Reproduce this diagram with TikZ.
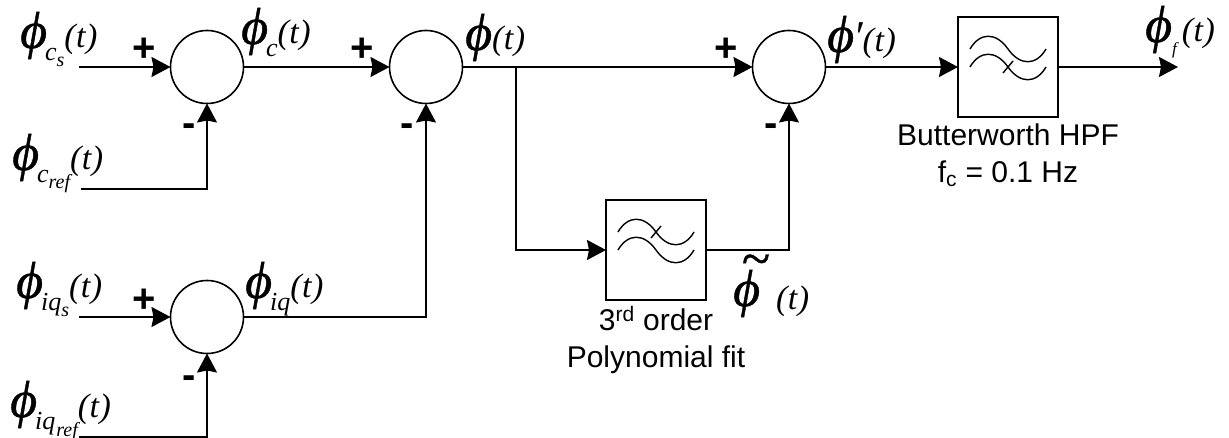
\documentclass[tikz,border=0pt]{standalone}
\usepackage{fontspec}
\setmainfont{Liberation Serif}
\setsansfont{Liberation Sans}
\newfontfamily\phifont[ItalicFeatures={FakeBold=0.8}]{Liberation Serif}
\usetikzlibrary{arrows.meta, positioning}
\newcommand{\phisym}{{\phifont\itshape\fontsize{52}{52}\selectfont ϕ}}
\newcommand{\phisub}[1]{\kern-2pt\raisebox{-13pt}{\fontsize{26}{26}\selectfont #1}}
\newcommand{\phisubsub}[1]{\raisebox{-19pt}{\fontsize{20}{20}\selectfont #1}}
\newcommand{\argt}{(\kern.5pt t\kern.5pt)}
\tikzset{
  sumnode/.style={circle, draw=black, line width=1.6pt, minimum size=73pt, inner sep=0pt, outer sep=0pt},
  filterbox/.style={rectangle, draw=black, line width=1.4pt, minimum size=100pt, inner sep=0pt, outer sep=0pt},
  sig/.style={font=\itshape\fontsize{34}{34}\selectfont, inner sep=0pt, anchor=base west},
  sign/.style={font=\sffamily\bfseries\fontsize{40}{40}\selectfont, inner sep=0pt, anchor=base},
  caption/.style={font=\sffamily\fontsize{30}{37}\selectfont, align=center, inner sep=0pt},
  arrow/.style={-{Stealth[length=19pt,width=20pt,inset=2pt]}, line width=1.7pt, draw=black},
  wave/.style={line width=1.4pt, draw=black},
}
\newcommand{\filterwaves}[3]{
  \begin{scope}[shift={(#1.center)}]
    \draw[wave] (-38,18) .. controls (-28,35) and (-12,35) .. (0,18) .. controls (12,1) and (28,1) .. (38,18);
    \draw[wave] (-38,0) .. controls (-28,17) and (-12,17) .. (0,0) .. controls (12,-17) and (28,-17) .. (38,0);
    \draw[wave] (-5,#2) -- (5,#3);
  \end{scope}
}
\begin{document}
\begin{tikzpicture}[x=1pt, y=1pt, on grid]
  \useasboundingbox (0,0) rectangle (1229,-438);

  % summing junctions and filters
  \node[sumnode] (sumc) at (207,-67) {};
  \node[sumnode, right=219pt of sumc] (sumphi) {};
  \node[sumnode, right=363pt of sumphi] (sumprime) {};
  \node[sumnode, below=250pt of sumc] (sumiq) {};
  \node[filterbox, right=219pt of sumprime] (hpf) {};
  \node[filterbox, at={(656,-250)}] (poly) {};
  \filterwaves{hpf}{-6}{6}
  \filterwaves{poly}{12}{24}

  % free ends
  \coordinate[left=128pt of sumc] (incs);
  \coordinate (incref) at (81,-189);
  \coordinate[left=128pt of sumiq] (iniqs);
  \coordinate (iniqref) at (79,-437);
  \coordinate[right=170pt of hpf] (outf);
  \coordinate (branch) at (516,-67);

  % connectors
  \draw[arrow] (incs) -- (sumc.west);
  \draw[arrow] (incref) -| (sumc.south);
  \draw[arrow] (iniqs) -- (sumiq.west);
  \draw[arrow] (iniqref) -| (sumiq.south);
  \draw[arrow] (sumc.east) -- (sumphi.west);
  \draw[arrow] (sumiq.east) -| (sumphi.south);
  \draw[arrow] (sumphi.east) -- (sumprime.west);
  \draw[arrow] (branch) |- (poly.west);
  \draw[arrow] (poly.east) -| (sumprime.south);
  \draw[arrow] (sumprime.east) -- (hpf.west);
  \draw[arrow] (hpf.east) -- (outf);

  % signal labels
  \node[sig] (lcs) at (20,-48) {\phisym\phisub{c}\phisubsub{s}\argt};
  \node[sig] (lcref) at (12,-170) {\phisym\phisub{c}\phisubsub{ref}\argt};
  \node[sig] (lc) at (241,-44) {\phisym\phisub{c}\argt};
  \node[sig] (liqs) at (16,-298) {\phisym\phisub{iq}\phisubsub{s}\argt};
  \node[sig] (liqref) at (10,-417) {\phisym\phisub{iq}\kern1pt\phisubsub{ref}\argt};
  \node[sig] (liq) at (245,-298) {\phisym\phisub{iq}\argt};
  \node[sig] (lphi) at (465,-50) {\phisym\argt};
  \node[sig] (lprime) at (827,-52) {\phisym{\fontsize{44}{44}\selectfont\kern-1pt ′}\argt};
  \node[sig] (lf) at (1145,-42) {\phisym\kern2pt\phisub{\fontsize{17}{17}\selectfont f}\kern5pt\argt};
  \node[sig] (ltilde) at (733,-306) {\rlap{\kern8pt\raisebox{30pt}{\phifont\itshape\fontsize{52}{52}\selectfont\char"007E}}\phisym\kern16pt\raisebox{-4pt}{\argt}};

  % signs
  \node[sign] (pc) at (144,-62) {+};
  \node[sign] (mc) at (189,-137) {-};
  \node[sign] (pphi) at (362,-62) {+};
  \node[sign] (mphi) at (407,-137) {-};
  \node[sign] (pprime) at (726,-62) {+};
  \node[sign] (mprime) at (771,-137) {-};
  \node[sign] (piq) at (144,-313) {+};
  \node[sign] (miq) at (189,-388) {-};

  % filter captions
  \node[caption, anchor=north] (caphpf) at ([yshift=-7pt]hpf.south) {Butterworth HPF\\f\textsubscript{c} = 0.1 Hz};
  \node[caption, anchor=north] (cappoly) at ([yshift=-6pt]poly.south) {3\textsuperscript{rd} order\\Polynomial fit};
\end{tikzpicture}
\end{document}
